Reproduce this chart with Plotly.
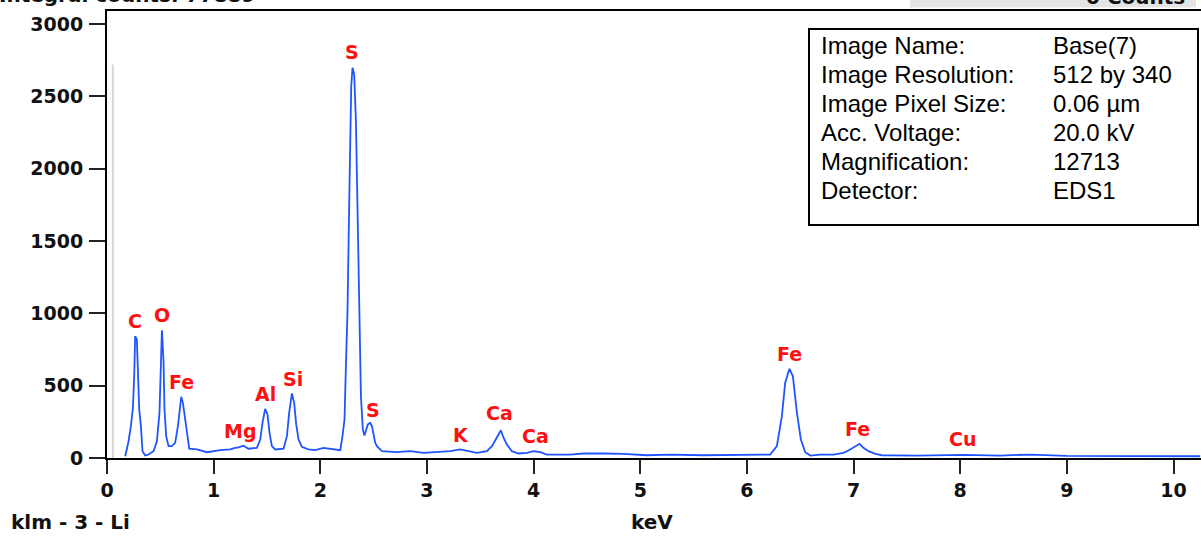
import plotly.graph_objects as go

# ---------------- data ----------------
energy_kev = [
    0.171, 0.202, 0.224, 0.243, 0.255, 0.264, 0.280, 0.290, 0.302, 0.318, 0.333, 0.358,
    0.389, 0.436, 0.468, 0.492, 0.505, 0.515, 0.530, 0.539, 0.555, 0.577, 0.608, 0.639,
    0.665, 0.680, 0.696, 0.712, 0.733, 0.755, 0.771, 0.843, 0.937, 1.061, 1.155, 1.202,
    1.233, 1.280, 1.327, 1.405, 1.437, 1.458, 1.483, 1.505, 1.524, 1.546, 1.577, 1.655,
    1.687, 1.708, 1.734, 1.755, 1.774, 1.796, 1.827, 1.889, 1.952, 2.030, 2.109, 2.187,
    2.208, 2.227, 2.240, 2.255, 2.274, 2.290, 2.302, 2.318, 2.334, 2.353, 2.368, 2.381,
    2.399, 2.414, 2.446, 2.468, 2.484, 2.499, 2.515, 2.531, 2.578, 2.718, 2.843, 2.968,
    3.093, 3.218, 3.312, 3.405, 3.468, 3.562, 3.609, 3.649, 3.693, 3.718, 3.750, 3.796,
    3.858, 3.937, 3.999, 4.062, 4.125, 4.343, 4.468, 4.655, 4.843, 5.062, 5.281, 5.593,
    5.906, 6.188, 6.218, 6.281, 6.328, 6.359, 6.399, 6.431, 6.469, 6.506, 6.547, 6.594,
    6.687, 6.812, 6.906, 6.969, 7.016, 7.056, 7.093, 7.140, 7.203, 7.266, 7.594, 8.031,
    8.375, 8.656, 9.000, 9.469, 9.938, 10.25,
]
counts = [
    12, 116, 220, 347, 565, 842, 819, 565, 335, 220, 47, 17,
    24, 47, 116, 312, 658, 883, 669, 335, 151, 82, 82, 105,
    220, 347, 423, 381, 266, 162, 64, 59, 40, 54, 59, 70,
    73, 85, 64, 70, 128, 243, 340, 301, 174, 82, 59, 64,
    151, 312, 446, 381, 232, 128, 77, 59, 54, 70, 64, 54,
    151, 266, 634, 1014, 1890, 2569, 2697, 2650, 2328, 1464, 1040, 427,
    197, 155, 232, 243, 220, 174, 105, 82, 47, 40, 47, 36,
    43, 47, 59, 47, 36, 47, 82, 133, 192, 140, 93, 47,
    31, 36, 47, 40, 24, 24, 31, 31, 29, 19, 24, 19,
    22, 24, 24, 82, 289, 520, 616, 565, 312, 128, 40, 17,
    24, 24, 36, 59, 82, 98, 70, 47, 29, 19, 17, 22,
    17, 24, 15, 15, 12, 12,
]

peak_names = ["C", "O", "Fe", "Mg", "Al", "Si", "S", "S", "K", "Ca", "Ca", "Fe", "Fe", "Cu"]
peak_kev = [0.258, 0.515, 0.703, 1.249, 1.483, 1.743, 2.296, 2.493, 3.318, 3.680, 4.015, 6.400, 7.037, 8.025]
peak_label_counts = [945, 985, 524, 185, 439, 547, 2804, 335, 162, 308, 151, 722, 202, 128]

y_ticks = [0, 500, 1000, 1500, 2000, 2500, 3000]
x_ticks = [0, 1, 2, 3, 4, 5, 6, 7, 8, 9, 10]

info_keys = ["Image Name:", "Image Resolution:", "Image Pixel Size:", "Acc. Voltage:", "Magnification:", "Detector:"]
info_vals = ["Base(7)", "512 by 340", "0.06 µm", "20.0 kV", "12713", "EDS1"]

# ---------------- layout geometry ----------------
W, H = 1201, 536
ML, MR, MT, MB = 107, 0, 11, 78
PW = W - ML - MR
PH = H - MT - MB


def px_x(px):
    return (px - ML) / PW


def px_y(py):
    return (H - MB - py) / PH


BOLD = dict(family="DejaVu Sans", size=19, color="#111111", weight="bold")
BOLD20 = dict(family="DejaVu Sans", size=20, color="#111111", weight="bold")

fig = go.Figure()
fig.add_trace(go.Scatter(
    x=energy_kev, y=counts, mode="lines",
    line=dict(color="#1f55ff", width=1.8),
    hoverinfo="skip", showlegend=False,
))

ann = []
for name, xk, yc in zip(peak_names, peak_kev, peak_label_counts):
    ann.append(dict(x=xk, y=yc, xref="x", yref="y", text=name, showarrow=False,
                    font=dict(family="DejaVu Sans", size=19, color="#ff1010", weight="bold"),
                    xanchor="center", yanchor="middle"))

# info box text
line_centers = [45.5, 74.5, 103.5, 132.5, 161.5, 190.5]
INFO_FONT = dict(family="Liberation Sans", size=24, color="#000000")
for k, v, cy in zip(info_keys, info_vals, line_centers):
    ann.append(dict(x=px_x(819), y=px_y(cy), xref="paper", yref="paper", text=k, showarrow=False,
                    font=INFO_FONT, xanchor="left", yanchor="middle"))
    ann.append(dict(x=px_x(1051), y=px_y(cy), xref="paper", yref="paper", text=v, showarrow=False,
                    font=INFO_FONT, xanchor="left", yanchor="middle"))

# bottom labels
ann.append(dict(x=px_x(9), y=px_y(522), xref="paper", yref="paper", text="klm - 3 - Li",
                showarrow=False, font=BOLD20, xanchor="left", yanchor="middle"))
ann.append(dict(x=px_x(652), y=px_y(522), xref="paper", yref="paper", text="keV",
                showarrow=False, font=BOLD20, xanchor="center", yanchor="middle"))
# cut-off header texts
ann.append(dict(x=px_x(257), y=px_y(-5), xref="paper", yref="paper", text="Integral counts: 77889",
                showarrow=False, font=BOLD20, xanchor="right", yanchor="middle"))
ann.append(dict(x=px_x(1187), y=px_y(-3), xref="paper", yref="paper", text="0 Counts",
                showarrow=False, font=BOLD20, xanchor="right", yanchor="middle"))

shapes = [
    # gray header box top-right
    dict(type="rect", xref="paper", yref="paper", x0=px_x(910), x1=px_x(1196), y0=px_y(7.5), y1=px_y(-10),
         fillcolor="#e4e4e4", line=dict(width=0), layer="below"),
    # info box
    dict(type="rect", xref="paper", yref="paper", x0=px_x(809), x1=px_x(1198), y0=px_y(225), y1=px_y(29),
         fillcolor="white", line=dict(color="black", width=2), layer="above"),
    # light grey marker line
    dict(type="line", xref="x", yref="y", x0=0.055, x1=0.055, y0=0, y1=2720,
         line=dict(color="#d6d6d6", width=2), layer="below"),
]

fig.update_layout(
    width=W, height=H,
    margin=dict(l=ML, r=MR, t=MT, b=MB),
    paper_bgcolor="white", plot_bgcolor="white",
    annotations=ann, shapes=shapes,
    showlegend=False,
)
fig.update_xaxes(
    range=[0, PW / 106.65], tickvals=x_ticks, ticktext=[str(v) for v in x_ticks],
    showgrid=False, zeroline=False, showline=True, linecolor="black", linewidth=2,
    mirror=True, ticks="outside", ticklen=14, tickwidth=2, tickcolor="#222222",
    tickfont=BOLD, ticklabelstandoff=0,
)
fig.update_yaxes(
    range=[0, PH / 0.1447], tickvals=y_ticks, ticktext=[str(v) for v in y_ticks],
    showgrid=False, zeroline=False, showline=True, linecolor="black", linewidth=2,
    ticks="outside", ticklen=16, tickwidth=2, tickcolor="#222222",
    tickfont=BOLD, ticklabelstandoff=2,
)

fig.write_html("out.html")
